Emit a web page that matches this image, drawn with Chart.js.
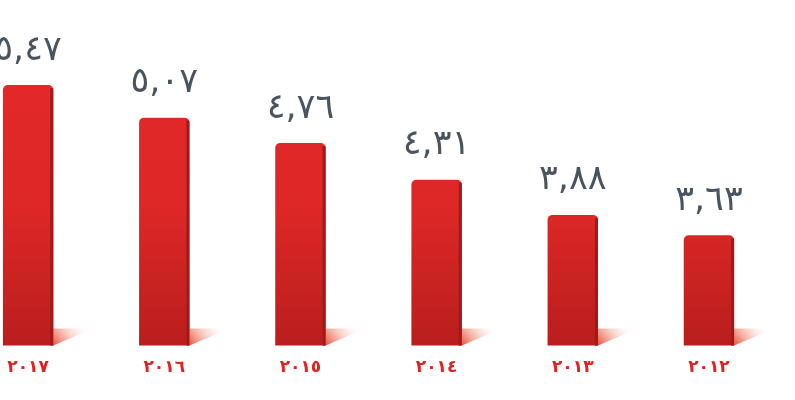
<!DOCTYPE html>
<html>
<head>
<meta charset="utf-8">
<script src="https://cdn.jsdelivr.net/npm/chart.js@4/dist/chart.umd.min.js"></script>
<style>
  html, body { margin: 0; padding: 0; background: #fff; overflow: hidden; }
  #wrap { position: absolute; left: -40px; top: 0; width: 817px; height: 400px; }
</style>
</head>
<body>
<div id="wrap"><canvas id="chart"></canvas></div>
<script>
var years = ['٢٠١٧', '٢٠١٦', '٢٠١٥', '٢٠١٤', '٢٠١٣', '٢٠١٢'];
var values = [5.47, 5.07, 4.76, 4.31, 3.88, 3.63];
var valueLabels = ['٥,٤٧', '٥,٠٧', '٤,٧٦', '٤,٣١', '٣,٨٨', '٣,٦٣'];

var barShade = {
  id: 'barShade',
  beforeDatasetsDraw: function(chart) {
    var ctx = chart.ctx;
    chart.getDatasetMeta(0).data.forEach(function(bar) {
      var right = bar.x + bar.width / 2,
        base = Math.min(bar.base, chart.chartArea.bottom),
        g = ctx.createLinearGradient(right, base, right + 28, base - 22);
      g.addColorStop(0, 'rgba(230,70,45,0.95)');
      g.addColorStop(1, 'rgba(252,215,200,0)');
      ctx.save();
      ctx.fillStyle = g;
      ctx.beginPath();
      ctx.moveTo(right, base);
      ctx.lineTo(right, base - 17);
      ctx.lineTo(right + 40, base - 17);
      ctx.closePath();
      ctx.fill();
      ctx.restore();
    });
  },
  afterDatasetsDraw: function(chart) {
    var ctx = chart.ctx;
    chart.getDatasetMeta(0).data.forEach(function(bar, i) {
      var right = bar.x + bar.width / 2,
        base = Math.min(bar.base, chart.chartArea.bottom);
      ctx.save();
      ctx.fillStyle = '#a31918';
      ctx.fillRect(right - 3, bar.y + 3, 3, base - bar.y - 3);
      ctx.fillStyle = '#4a545e';
      ctx.font = '35px "DejaVu Sans"';
      ctx.textAlign = 'center';
      ctx.textBaseline = 'bottom';
      ctx.fillText(valueLabels[i], bar.x, bar.y - 17);
      ctx.restore();
    });
  }
};

var ctx = document.getElementById('chart').getContext('2d');
new Chart(ctx, {
  type: 'bar',
  data: {
    labels: years,
    datasets: [{
      data: values,
      backgroundColor: function(c) {
        var area = c.chart.chartArea;
        if (!area) return '#d9262a';
        var g = c.chart.ctx.createLinearGradient(0, area.top, 0, area.bottom);
        g.addColorStop(0, '#e6292a');
        g.addColorStop(0.6, '#de2727');
        g.addColorStop(1, '#b91e1e');
        return g;
      },
      borderRadius: { topLeft: 5, topRight: 5 },
      borderSkipped: 'bottom',
      barPercentage: 0.37,
      categoryPercentage: 1
    }]
  },
  options: {
    responsive: true,
    maintainAspectRatio: false,
    animation: false,
    layout: { padding: { top: 0, bottom: 10, left: 0, right: 0 } },
    plugins: { legend: { display: false }, tooltip: { enabled: false } },
    scales: {
      x: {
        grid: { display: false, drawTicks: false },
        border: { display: false },
        ticks: {
          color: '#e0211f',
          padding: 12,
          font: { family: 'DejaVu Sans', size: 17, weight: 'bold' }
        }
      },
      y: {
        display: false,
        min: 2.28,
        max: 6.51
      }
    }
  },
  plugins: [barShade]
});
</script>
</body>
</html>
